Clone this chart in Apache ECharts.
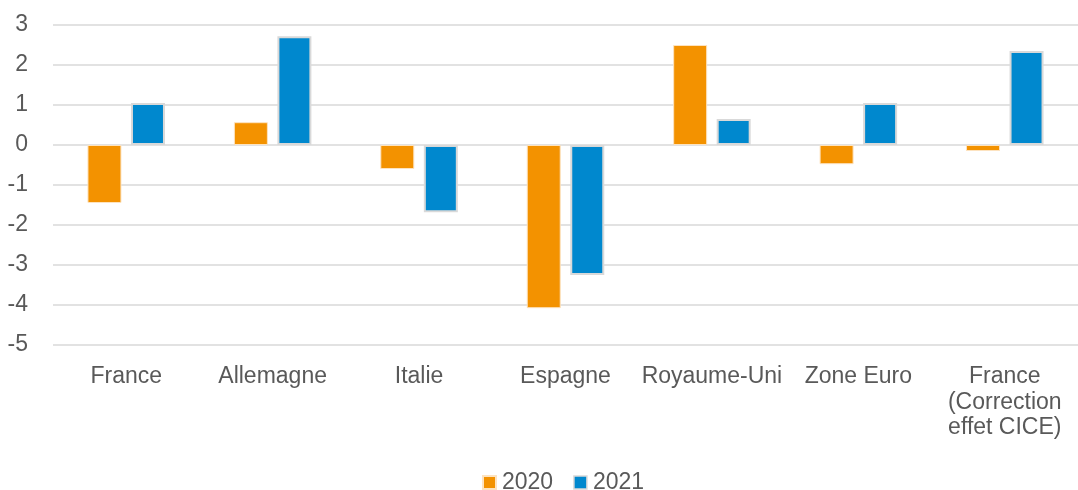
<!DOCTYPE html>
<html><head><meta charset="utf-8">
<script src="https://cdn.jsdelivr.net/npm/echarts@6/dist/echarts.min.js"></script>
<style>html,body{margin:0;padding:0;background:#fff}#c{width:1078px;height:490px}</style>
</head><body><div id="c"></div>
<script>
const categories = ['France', 'Allemagne', 'Italie', 'Espagne', 'Royaume-Uni', 'Zone Euro', 'France\n(Correction\neffet CICE)'];
const values2020 = [-1.45, 0.57, -0.6, -4.08, 2.5, -0.48, -0.15];
const values2021 = [1.05, 2.72, -1.68, -3.25, 0.65, 1.05, 2.35];
const yTicks = [-5, -4, -3, -2, -1, 0, 1, 2, 3];

const chart = echarts.init(document.getElementById('c'));
const font = 'Liberation Sans, Arial, sans-serif';
chart.setOption({
  animation: false,
  grid: { left: 53, right: 0, top: 25, bottom: 145 },
  legend: {
    top: 466, left: 477, itemWidth: 13, itemHeight: 13, itemGap: 20,
    textStyle: { fontFamily: font, fontSize: 23, color: '#595959', padding: [0, 0, 0, 1] },
    data: [
      { name: '2020', icon: 'rect' },
      { name: '2021', icon: 'rect', itemStyle: { borderColor: '#d9d9d9', borderWidth: 1.5 } }
    ]
  },
  xAxis: {
    type: 'category', data: categories,
    axisLine: { show: false }, axisTick: { show: false },
    axisLabel: { interval: 0, margin: 19, fontFamily: font, fontSize: 23, color: '#595959', lineHeight: 25.5, verticalAlign: 'top' }
  },
  yAxis: {
    type: 'value', min: -5, max: 3, interval: 1,
    axisLabel: { fontFamily: font, fontSize: 23, color: '#595959', margin: 25,
      formatter: v => yTicks.includes(v) ? String(v) : '' },
    splitLine: { lineStyle: { color: '#d9d9d9', width: 1.5 } },
    axisLine: { show: false }, axisTick: { show: false }
  },
  series: [
    { name: '2020', type: 'bar', data: values2020, barWidth: 34, barGap: '28%',
      itemStyle: { color: '#F39200', borderColor: '#fde3c0', borderWidth: 1 } },
    { name: '2021', type: 'bar', data: values2021, barWidth: 34,
      itemStyle: { color: '#0088CE', borderColor: '#d9d9d9', borderWidth: 2 } }
  ]
});
</script></body></html>
